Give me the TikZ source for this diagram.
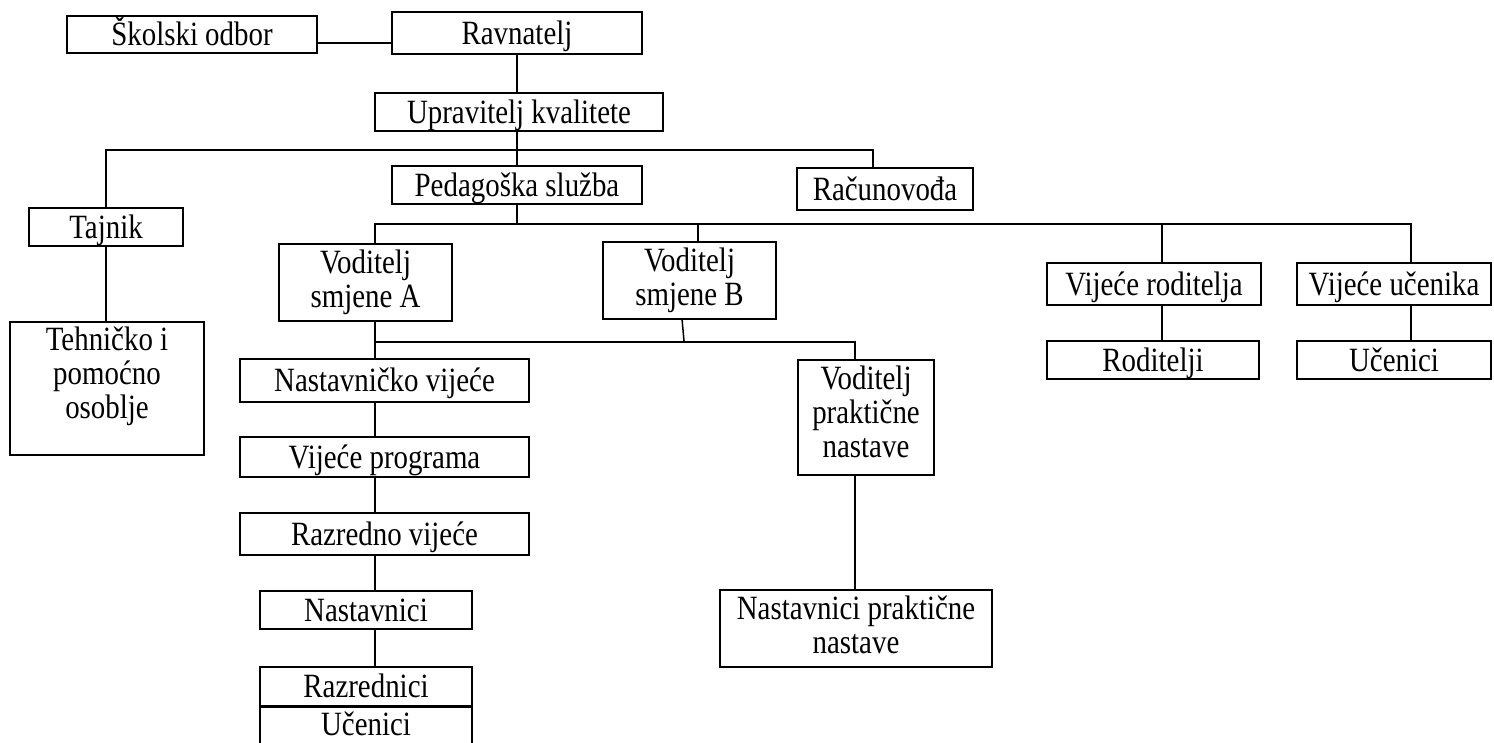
\documentclass[tikz,border=0pt]{standalone}
\usepackage{fontspec}
\setmainfont{Liberation Serif}[FakeStretch=0.85]
\usetikzlibrary{calc}
\newcommand\mlines[1]{\begin{tabular}[b]{@{}c@{}}#1\end{tabular}}
\begin{document}
\begin{tikzpicture}[x=1pt,y=-1pt,
  box/.style={draw, line width=1.8pt, rectangle, inner sep=0pt,
    font=\fontsize{34}{34}\selectfont, text height=22.5pt, text depth=0pt},
  conn/.style={line width=1.5pt},
  busline/.style={line width=2.2pt}]
\useasboundingbox (0,0) rectangle (1494,742);

% boxes
\node[box, minimum width=250pt, minimum height=37pt] (skolski) at (192,34.5) {Školski odbor};
\node[box, minimum width=250pt, minimum height=42pt] (ravnatelj) at (517,33) {Ravnatelj};
\node[box, minimum width=288pt, minimum height=38pt] (upravitelj) at (519,112) {Upravitelj kvalitete};
\node[box, minimum width=250pt, minimum height=38pt] (pedagoska) at (517,185) {Pedagoška služba};
\node[box, minimum width=176pt, minimum height=42pt] (racun) at (885,189) {Računovođa};
\node[box, minimum width=154pt, minimum height=38pt] (tajnik) at (106,227) {Tajnik};
\node[box, minimum width=194pt, minimum height=133pt, text height=59pt] (tehnicko) at (107,388.5) {\mlines{Tehničko i\\pomoćno\\osoblje}};
\node[box, minimum width=173pt, minimum height=77pt, text height=49pt] (voda) at (365.5,282.5) {\mlines{Voditelj\\smjene A}};
\node[box, minimum width=173pt, minimum height=77pt, text height=49pt] (vodb) at (689.5,280.5) {\mlines{Voditelj\\smjene B}};
\node[box, minimum width=136pt, minimum height=115pt, text height=79pt] (vp) at (866,417.5) {\mlines{Voditelj\\praktične\\nastave}};
\node[box, minimum width=272pt, minimum height=77pt, text height=49pt] (npn) at (856,628.5) {\mlines{Nastavnici praktične\\nastave}};
\node[box, minimum width=289pt, minimum height=43pt] (nastv) at (384.5,380.5) {Nastavničko vijeće};
\node[box, minimum width=289pt, minimum height=40pt] (vprog) at (384.5,457) {Vijeće programa};
\node[box, minimum width=289pt, minimum height=42pt] (razv) at (384.5,534) {Razredno vijeće};
\node[box, minimum width=212pt, minimum height=38pt] (nast) at (366,610) {Nastavnici};
\node[box, minimum width=212pt, minimum height=38.5pt] (razr) at (366,686.25) {Razrednici};
\node[box, minimum width=212pt, minimum height=38.8pt, text height=19pt] (ucl) at (366,726.4) {Učenici};
\node[box, minimum width=214pt, minimum height=42pt] (vr) at (1154,284) {Vijeće roditelja};
\node[box, minimum width=194pt, minimum height=42pt] (vu) at (1394,284) {Vijeće učenika};
\node[box, minimum width=212pt, minimum height=38pt] (rod) at (1153,360) {Roditelji};
\node[box, minimum width=194pt, minimum height=38pt] (ucr) at (1394,360) {Učenici};

% connectors
\coordinate (c1) at ($(skolski.east)+(0,8.5)$);
\draw[conn] (c1) -- (c1 -| ravnatelj.west);
\draw[conn] (ravnatelj.south) -- (ravnatelj.south |- upravitelj.north);
\draw[conn] (pedagoska.north) -- (pedagoska.north |- upravitelj.south);

\coordinate (racTop) at ($(racun.north west)+(77,0)$);
\draw[busline] (tajnik.north) -- ++(0,-57) -| (racTop);
\draw[conn] (tajnik.south) -- (tajnik.south |- tehnicko.north);

\coordinate (aTop) at ($(voda.north west)+(97,0)$);
\coordinate (busL) at ($(aTop)+(0,-19)$);
\coordinate (vuTop) at ($(vu.north west)+(115,0)$);
\coordinate (vrTop) at ($(vr.north west)+(116,0)$);
\coordinate (bTop) at ($(vodb.north west)+(96,0)$);
\draw[conn] (aTop) -- (busL) -| (vuTop);
\draw[conn] (pedagoska.south) -- (pedagoska.south |- busL);
\draw[conn] (bTop) -- (bTop |- busL);
\draw[conn] (vrTop) -- (vrTop |- busL);

\coordinate (aBot) at ($(voda.south west)+(97,0)$);
\coordinate (split) at ($(aBot)+(0,20)$);
\coordinate (vpTop) at ($(vp.north west)+(58,0)$);
\draw[conn] (aBot) -- (aBot |- nastv.north);
\draw[conn] (split) -| (vpTop);
\coordinate (bBot) at ($(vodb.south west)+(80,0)$);
\draw[conn] (bBot) -- ($(bBot |- split)+(2,0)$);

\draw[conn] (aBot |- nastv.south) -- (aBot |- vprog.north);
\draw[conn] (aBot |- vprog.south) -- (aBot |- razv.north);
\draw[conn] (aBot |- razv.south) -- (aBot |- nast.north);
\draw[conn] (aBot |- nast.south) -- (aBot |- razr.north);

\coordinate (vpBot) at ($(vp.south west)+(58,0)$);
\draw[conn] (vpBot) -- (vpBot |- npn.north);
\draw[conn] (vrTop |- vr.south) -- (vrTop |- rod.north);
\draw[conn] (vuTop |- vu.south) -- (vuTop |- ucr.north);
\end{tikzpicture}
\end{document}
